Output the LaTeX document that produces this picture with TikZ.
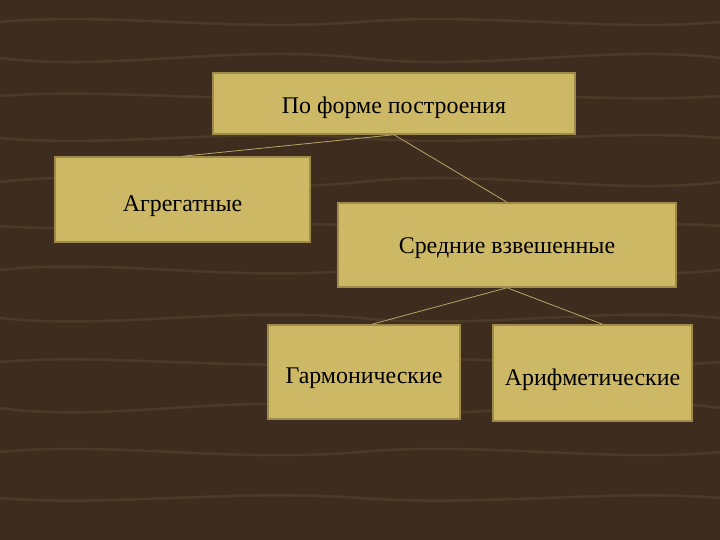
\documentclass[tikz,border=0pt]{standalone}
\usepackage{fontspec}
\setmainfont{Liberation Serif}
\definecolor{wood}{HTML}{3E2D1E}
\definecolor{woodlight}{HTML}{5E4A35}
\definecolor{boxfill}{HTML}{CDB866}
\definecolor{boxedge}{HTML}{9E8A4A}
\definecolor{linkc}{HTML}{B8A468}
\newcommand{\dn}[2]{\raisebox{-#1bp}[0pt][0pt]{#2}}
\begin{document}
\begin{tikzpicture}[x=1bp,y=-1bp,
  box/.style={draw=boxedge,line width=1.5bp,fill=boxfill,inner sep=0pt,font=\fontsize{24}{28}\selectfont,text=black},
  link/.style={draw=linkc,line width=0.8bp}]
\fill[wood] (0,0) rectangle (720,540);
\useasboundingbox (0,0) rectangle (720,540);
\foreach \y/\a in {22/10,58/-14,96/8,138/-10,182/14,226/-8,270/12,318/-12,362/9,408/-15,452/11,498/-9}{
  \draw[woodlight,line width=2.5bp,opacity=0.45] (0,\y) .. controls (110,\y-\a) and (230,\y+\a) .. (360,\y) .. controls (480,\y-\a) and (610,\y+\a) .. (720,\y);
}
\node[box,minimum width=362bp,minimum height=61bp] (top) at (394,103.5) {\dn{10.5}{По форме построения}};
\node[box,minimum width=255bp,minimum height=85bp] (agr) at (182.5,199.5) {\dn{12.5}{Агрегатные}};
\node[box,minimum width=338bp,minimum height=84bp] (sr) at (507,245) {\dn{9}{Средние взвешенные}};
\node[box,minimum width=192bp,minimum height=94bp] (garm) at (364,372) {\dn{11}{Гармонические}};
\node[box,minimum width=199bp,minimum height=96bp] (arif) at (592.5,373) {\dn{12}{Арифметические}};
\draw[link] (top.south) -- (agr.north);
\draw[link] (top.south) -- (sr.north);
\draw[link] (sr.south) -- ([xshift=8bp]garm.north);
\draw[link] (sr.south) -- ([xshift=10bp]arif.north);
\end{tikzpicture}
\end{document}
